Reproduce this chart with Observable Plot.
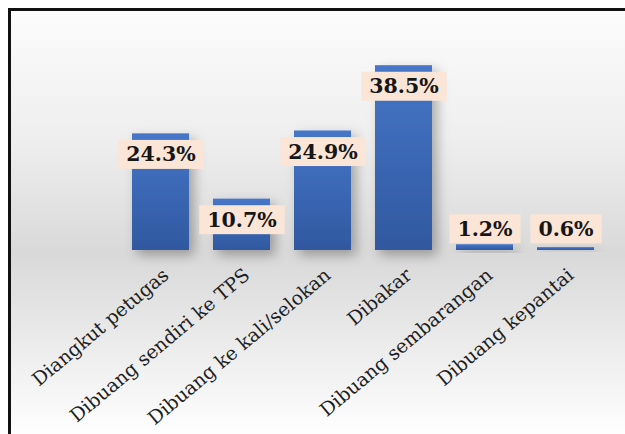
<!DOCTYPE html>
<html>
<head>
<meta charset="utf-8">
<script src="https://cdn.jsdelivr.net/npm/d3@7"></script>
<script src="https://cdn.jsdelivr.net/npm/@observablehq/plot@0.6"></script>
<style>
  html, body { margin: 0; padding: 0; width: 625px; height: 434px; overflow: hidden; background: #ffffff; }
  #clip { position: absolute; left: 0; top: 0; width: 625px; height: 434px; overflow: hidden; }
  #frame {
    position: absolute; left: 8px; top: 8px; width: 700px; height: 426px;
    border-top: 3px solid #111; border-left: 3px solid #111;
    background: linear-gradient(to bottom, #fcfcfc 0%, #eeeeee 30%, #d9d9d9 57%, #e4e4e4 70%, #ffffff 100%);
  }
  #chart { position: absolute; left: 0; top: 0; }
  #chart svg { background: transparent; }
</style>
</head>
<body>
<div id="clip">
<div id="frame"></div>
<div id="chart"></div>
</div>
<script>
const categories = ["Diangkut petugas", "Dibuang sendiri ke TPS", "Dibuang ke kali/selokan", "Dibakar", "Dibuang sembarangan", "Dibuang kepantai"];
const values = [24.3, 10.7, 24.9, 38.5, 1.2, 0.6];
const valueLabels = ["24.3%", "10.7%", "24.9%", "38.5%", "1.2%", "0.6%"];

const data = categories.map((c, i) => ({cat: c, value: values[i], label: valueLabels[i]}));

const defs = () => {
  const g = d3.create("svg:defs");
  const lg = g.append("linearGradient").attr("id", "barGrad").attr("x1", 0).attr("y1", 0).attr("x2", 0).attr("y2", 1);
  lg.append("stop").attr("offset", "0%").attr("stop-color", "#4676c8");
  lg.append("stop").attr("offset", "100%").attr("stop-color", "#30589f");
  const f = g.append("filter").attr("id", "shadow").attr("x", "-50%").attr("y", "-50%").attr("width", "200%").attr("height", "200%");
  f.append("feDropShadow").attr("dx", 5).attr("dy", 5).attr("stdDeviation", 6).attr("flood-color", "#000").attr("flood-opacity", 0.3);
  return g.node();
};

const plot = Plot.plot({
  width: 625,
  height: 434,
  marginLeft: 118,
  marginRight: 17,
  marginTop: 58,
  marginBottom: 184,
  style: {background: "transparent", overflow: "visible"},
  x: {domain: categories, paddingInner: 0.3, paddingOuter: 0.15, axis: null},
  y: {domain: [0, 40], axis: null},
  marks: [
    defs,
    Plot.barY(data, {x: "cat", y: "value", fill: "url(#barGrad)"}),
    Plot.text(data, {
      x: "cat", y: () => 0, text: "cat", rotate: -40, textAnchor: "end", lineAnchor: "middle",
      dx: 5, dy: 22, fontSize: 19, fontFamily: "DejaVu Serif", fill: "#1e1e1e"
    }),
    Plot.text(data, {
      x: "cat", y: d => Math.max(d.value, 8.8), text: "label", dy: 21,
      fontSize: 20.5, fontWeight: "bold", fontFamily: "DejaVu Serif", fill: "#161616",
      lineAnchor: "middle"
    })
  ]
});

document.getElementById("chart").appendChild(plot);

// shadow on bars
plot.querySelectorAll("g[aria-label='bar'] rect").forEach(r => r.setAttribute("filter", "url(#shadow)"));

// peach label boxes behind value labels
(function () {
  const textGroups = Array.from(plot.querySelectorAll("g[aria-label='text']"));
  const lblGroup = textGroups[textGroups.length - 1];
  let anc = lblGroup;
  while (anc.parentNode !== plot) anc = anc.parentNode;
  const boxes = document.createElementNS("http://www.w3.org/2000/svg", "g");
  plot.insertBefore(boxes, anc);
  const svgRect = plot.getBoundingClientRect();
  lblGroup.querySelectorAll("text").forEach(t => {
    const b = t.getBoundingClientRect();
    const cx = b.left - svgRect.left + b.width / 2;
    const cy = b.top - svgRect.top + b.height / 2;
    const r = document.createElementNS("http://www.w3.org/2000/svg", "rect");
    r.setAttribute("x", cx - b.width / 2 - 8);
    r.setAttribute("width", b.width + 16);
    r.setAttribute("y", cy - 14.5);
    r.setAttribute("height", 29);
    r.setAttribute("fill", "#fbe5d6");
    boxes.appendChild(r);
  });
})();
</script>
</body>
</html>
